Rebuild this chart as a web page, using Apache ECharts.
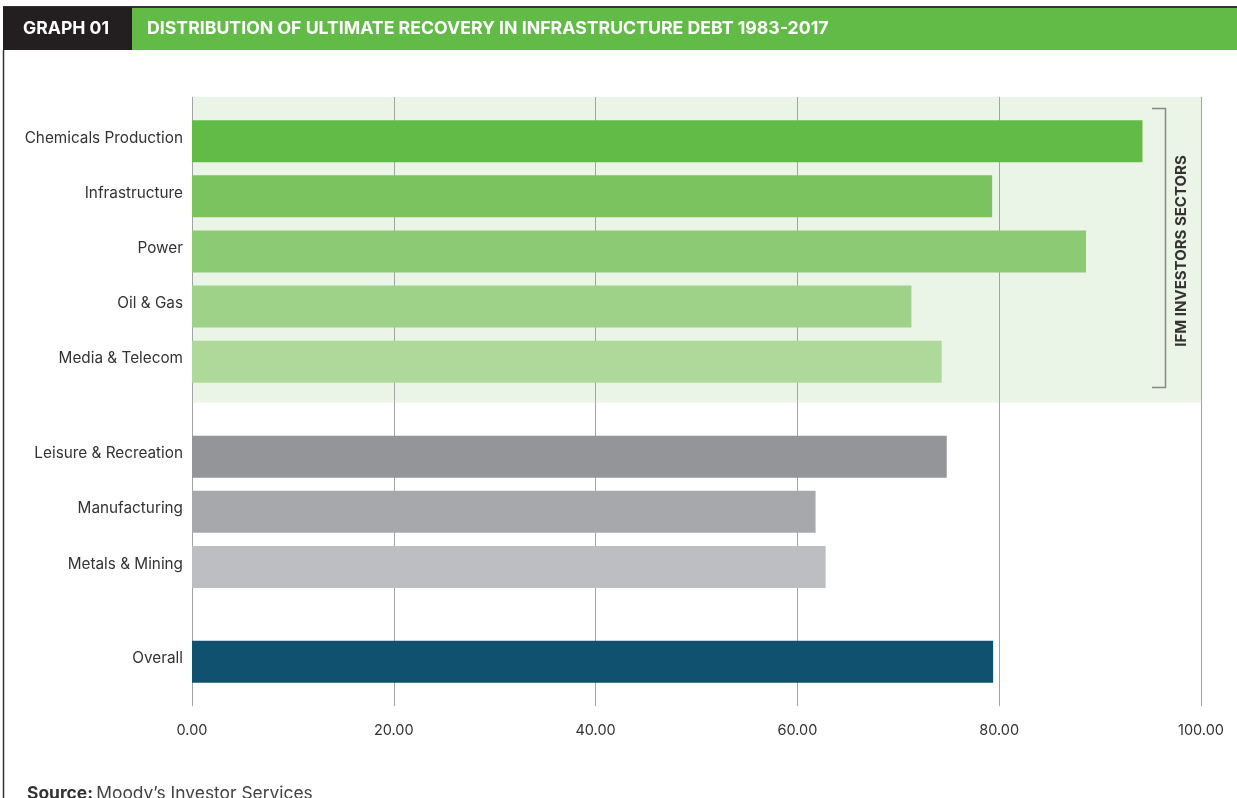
<!DOCTYPE html>
<html>
<head>
<meta charset="utf-8">
<script src="https://cdn.jsdelivr.net/npm/echarts@6/dist/echarts.min.js"></script>
<style>
html,body{margin:0;padding:0;background:#fff;}
#chart{width:1237px;height:798px;}
</style>
</head>
<body>
<div id="chart"></div>
<script>
// ---- data ----
const ifmCategories = ['Chemicals Production', 'Infrastructure', 'Power', 'Oil & Gas', 'Media & Telecom'];
const ifmValues = [94.2, 79.3, 88.6, 71.3, 74.3];
const otherCategories = ['Leisure & Recreation', 'Manufacturing', 'Metals & Mining'];
const otherValues = [74.8, 61.8, 62.8];
const overallCategories = ['Overall'];
const overallValues = [79.4];
const xTicks = [0, 20, 40, 60, 80, 100];

// ---- styles ----
const ifmColors = ['#62bb46', '#7ac35f', '#8cca74', '#9fd289', '#afd99b'];
const otherColors = ['#939598', '#a7a8ab', '#bdbec1'];
const overallColors = ['#10516f'];
const GROUP_GAP = 0.72;   // extra spacing between groups, in row units
const BAR_PX = 42;

const groups = [
  {cats: ifmCategories, vals: ifmValues, colors: ifmColors},
  {cats: otherCategories, vals: otherValues, colors: otherColors},
  {cats: overallCategories, vals: overallValues, colors: overallColors}
];
const barData = [];
let idx = 0;
groups.forEach((g, gi) => {
  g.cats.forEach((c, i) => {
    barData.push({value: [g.vals[i], idx + gi * GROUP_GAP], name: c, color: g.colors[i]});
    idx++;
  });
});
const yMin = -0.8;
const yMax = idx - 1 + (groups.length - 1) * GROUP_GAP + 0.8;
const shadeEnd = ifmCategories.length - 1 + 0.74;

const FONT = 'Inter, Roboto, sans-serif';
const chart = echarts.init(document.getElementById('chart'));
chart.setOption({
  animation: false,
  grid: {left: 192, right: 36, top: 97, bottom: 92},
  xAxis: {
    type: 'value', min: xTicks[0], max: xTicks[xTicks.length - 1], interval: xTicks[1] - xTicks[0],
    axisLine: {show: false}, axisTick: {show: false},
    splitLine: {show: true, lineStyle: {color: '#a3a3a3', width: 1}},
    axisLabel: {
      margin: 17, color: '#333', fontSize: 14.5, fontFamily: FONT,
      formatter: v => v.toFixed(2)
    }
  },
  yAxis: {
    type: 'value', min: yMin, max: yMax, inverse: true, show: false,
    splitLine: {show: false}
  },
  series: [
    {
      type: 'custom', z: -1, silent: true,
      data: [[yMin, shadeEnd]],
      renderItem: (params, api) => {
        const p0 = api.coord([0, api.value(0)]);
        const p1 = api.coord([100, api.value(1)]);
        return {type: 'rect', shape: {x: p0[0], y: p0[1], width: p1[0] - p0[0], height: p1[1] - p0[1]},
                style: {fill: '#eaf4e7'}};
      }
    },
    {
      type: 'custom', z: 3,
      data: barData,
      encode: {x: 0, y: 1},
      renderItem: (params, api) => {
        const d = barData[params.dataIndex];
        const p0 = api.coord([0, api.value(1)]);
        const p1 = api.coord([api.value(0), api.value(1)]);
        return {
          type: 'group',
          children: [
            {type: 'rect', shape: {x: p0[0], y: p0[1] - BAR_PX / 2, width: p1[0] - p0[0], height: BAR_PX},
             style: {fill: d.color}},
            {type: 'text', x: p0[0] - 9, y: p0[1] - 3,
             style: {text: d.name, align: 'right', verticalAlign: 'middle', fill: '#333',
                     font: '15.3px ' + FONT}}
          ]
        };
      }
    }
  ],
  graphic: [
    {type: 'rect', shape: {x: 3, y: 6, width: 1234, height: 2}, style: {fill: '#333'}},
    {type: 'rect', shape: {x: 3, y: 7, width: 129, height: 43}, style: {fill: '#231f20'}},
    {type: 'rect', shape: {x: 132, y: 8, width: 1105, height: 42}, style: {fill: '#62bb46'}},
    {type: 'text', x: 23, y: 29, style: {text: 'GRAPH 01', fill: '#fff', font: 'bold 17.6px ' + FONT, verticalAlign: 'middle'}},
    {type: 'text', x: 147, y: 29, style: {text: 'DISTRIBUTION OF ULTIMATE RECOVERY IN INFRASTRUCTURE DEBT 1983-2017', fill: '#fff', font: 'bold 17.7px ' + FONT, verticalAlign: 'middle'}},
    {type: 'line', shape: {x1: 3.5, y1: 50, x2: 3.5, y2: 798}, style: {stroke: '#333', lineWidth: 1.5}},
    {type: 'polyline', shape: {points: [[1152, 108.5], [1165.5, 108.5], [1165.5, 387.5], [1152, 387.5]]},
     style: {stroke: '#888', lineWidth: 1.5, fill: null}},
    {type: 'text', x: 1181, y: 251, rotation: Math.PI / 2,
     style: {text: 'IFM INVESTORS SECTORS', fill: '#333', font: 'bold 15px ' + FONT, align: 'center', verticalAlign: 'middle'}},
    {type: 'text', x: 27, y: 794,
     style: {text: '{b|Source:} {r|Moody\u2019s Investor Services}', verticalAlign: 'middle',
             rich: {b: {font: 'bold 17.4px ' + FONT, fill: '#333'}, r: {font: '17.4px ' + FONT, fill: '#444'}}}}
  ]
});
</script>
</body>
</html>
